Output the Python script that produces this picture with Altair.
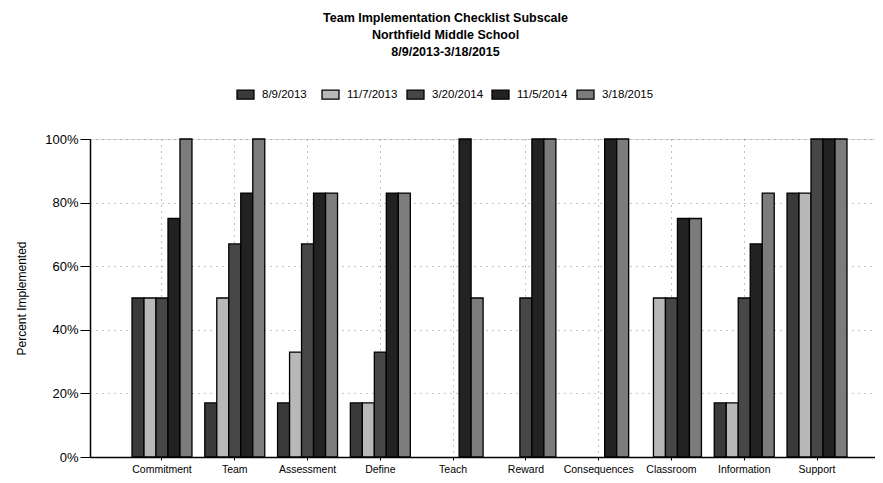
import altair as alt
import pandas as pd

categories = ["Commitment", "Team", "Assessment", "Define", "Teach",
              "Reward", "Consequences", "Classroom", "Information", "Support"]
dates = ["8/9/2013", "11/7/2013", "3/20/2014", "11/5/2014", "3/18/2015"]

v_2013_08_09 = [50, 17, 17, 17, 0, 0, 0, 0, 17, 83]
v_2013_11_07 = [50, 50, 33, 17, 0, 0, 0, 50, 17, 83]
v_2014_03_20 = [50, 67, 67, 33, 0, 50, 0, 50, 50, 100]
v_2014_11_05 = [75, 83, 83, 83, 100, 100, 100, 75, 67, 100]
v_2015_03_18 = [100, 100, 83, 83, 50, 100, 100, 75, 83, 100]

colors = ["#3a3a3a", "#b8b8b8", "#474747", "#222222", "#7c7c7c"]
y_ticks = [0, 20, 40, 60, 80, 100]
title_lines = ["Team Implementation Checklist Subscale",
               "Northfield Middle School",
               "8/9/2013-3/18/2015"]

series = [v_2013_08_09, v_2013_11_07, v_2014_03_20, v_2014_11_05, v_2015_03_18]
rows = []
for i, cat in enumerate(categories):
    for d, s in zip(dates, series):
        rows.append({"Subscale": cat, "Date": d, "Value": s[i]})
df = pd.DataFrame(rows)

regular = "Liberation Sans, Arial, sans-serif"

chart = alt.Chart(df).transform_filter(
    "datum.Value > 0"
).mark_bar(stroke="black", strokeWidth=1.3, opacity=1).encode(
    x=alt.X("Subscale:N", sort=categories, title=None,
            scale=alt.Scale(paddingInner=0.176, paddingOuter=0.481, align=0.6),
            axis=alt.Axis(labelAngle=0, labelFont=regular, labelFontSize=10.5,
                          labelColor="black", labelPadding=4, tickSize=3,
                          tickColor="black", domainColor="black", domainWidth=1.5,
                          grid=True, gridDash=[1, 5], gridColor="#888")),
    xOffset=alt.XOffset("Date:N", sort=dates,
                        scale=alt.Scale(paddingInner=0, paddingOuter=0)),
    y=alt.Y("Value:Q", scale=alt.Scale(domain=[0, 100]),
            title="Percent Implemented",
            axis=alt.Axis(values=y_ticks, labelExpr="datum.value + '%'",
                          labelFont=regular, labelFontSize=13, labelColor="black",
                          tickSize=10, labelPadding=2, tickColor="black",
                          domainColor="black", domainWidth=1.5,
                          grid=True, gridDash=[1, 5], gridColor="#888",
                          titleFont=regular, titleFontSize=12, titleFontWeight="normal",
                          titleColor="black", titlePadding=16)),
    color=alt.Color("Date:N", sort=dates,
                    scale=alt.Scale(domain=dates, range=colors),
                    legend=alt.Legend(title=None, orient="none", legendX=146, legendY=-54,
                                      direction="horizontal",
                                      symbolType="M-1,-0.53H1V0.53H-1Z", symbolSize=289,
                                      symbolStrokeColor="black", symbolStrokeWidth=1.3,
                                      symbolOpacity=1,
                                      labelFont=regular, labelFontSize=11.5, labelColor="black",
                                      labelOffset=7, columnPadding=5, gridAlign="all",
                                      padding=0)),
).properties(
    width=785, height=318,
    padding={"left": 82, "top": 131, "right": 0, "bottom": 18},
    autosize=alt.AutoSizeParams(type="none"),
    title=alt.TitleParams(text=title_lines, anchor="middle", font=regular, fontSize=12.5,
                          fontWeight="bold", lineHeight=17, offset=27, dx=-37,
                          color="black"),
).configure_view(stroke=None).configure(background="white")

chart.save("out.html", embed_options={"renderer": "svg", "actions": False})
